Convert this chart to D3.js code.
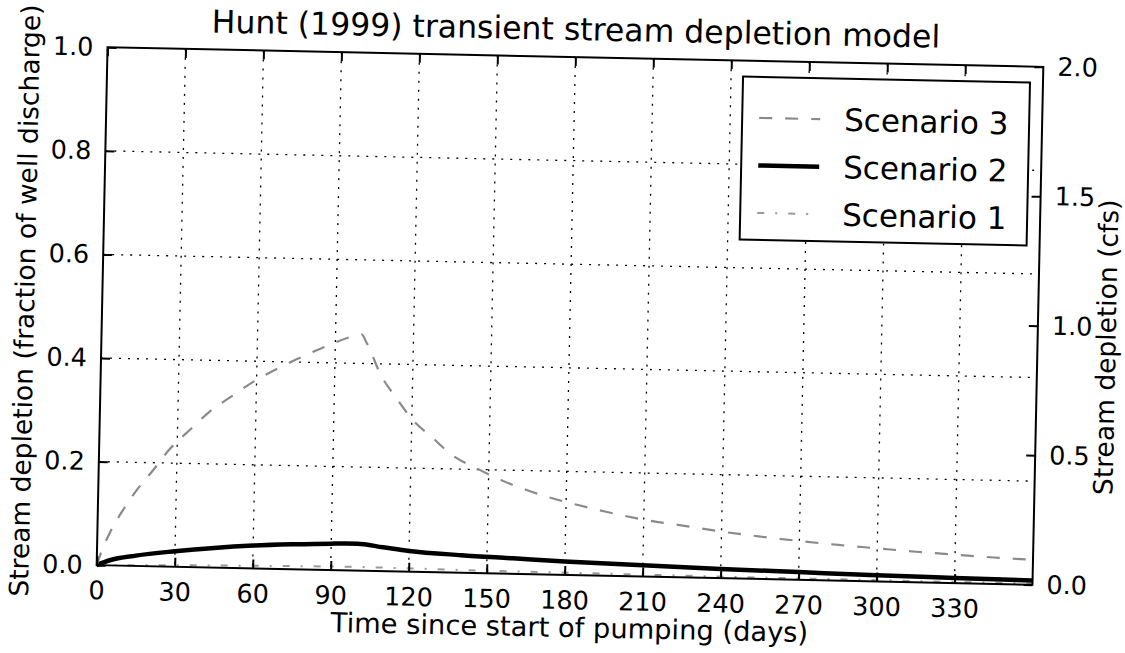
<!DOCTYPE html>
<html><head><meta charset="utf-8">
<script src="https://cdn.jsdelivr.net/npm/d3@7"></script>
<style>body{margin:0;background:#fff}svg{display:block}text{font-family:"DejaVu Sans",sans-serif;fill:#000}</style>
</head><body>
<svg id="c" width="1125" height="653"></svg>
<script>
// ---- data ----
const title = "Hunt (1999) transient stream depletion model";
const xLabel = "Time since start of pumping (days)";
const yLabelLeft = "Stream depletion (fraction of well discharge)";
const yLabelRight = "Stream depletion (cfs)";
const xTicks = [0,30,60,90,120,150,180,210,240,270,300,330];
const yTicksLeft = [0.0,0.2,0.4,0.6,0.8,1.0];
const yTicksRight = [0.0,0.5,1.0,1.5,2.0];
const xDomain = [0,360];
const seriesNames = ["Scenario 3","Scenario 2","Scenario 1"];
const days3 = [0,2,5,10,15,21,27,35,42,51,59,68,78,87,96,100,102,108,114,120,128,136,145,155,165,175,185,195,210,225,240,255,270,285,300,315,330,345,360];
const scen3 = [0,0.03,0.065,0.11,0.148,0.186,0.226,0.266,0.300,0.333,0.361,0.387,0.412,0.433,0.451,0.456,0.44,0.376,0.334,0.295,0.260,0.226,0.203,0.18,0.162,0.147,0.135,0.124,0.11,0.10,0.09,0.082,0.075,0.069,0.064,0.059,0.055,0.051,0.048];
const days2 = [0,5,15,30,45,60,75,90,100,110,120,140,160,180,210,240,270,300,330,360];
const scen2 = [0,0.01,0.02,0.03,0.038,0.044,0.048,0.051,0.052,0.046,0.040,0.034,0.030,0.026,0.022,0.018,0.015,0.012,0.010,0.008];
const days1 = [0,30,60,100,150,200,250,300,360];
const scen1 = [0,0.003,0.005,0.007,0.005,0.004,0.003,0.0025,0.002];

// ---- layout ----
const W=1125,H=653;
const L=102,T=57,R=1038,B=575;
const angle=1.2, cx=570, cy=316;
const svg=d3.select("#c");
svg.append("rect").attr("width",W).attr("height",H).attr("fill","#fff");
const g=svg.append("g").attr("transform",`rotate(${angle},${cx},${cy})`);

const x=d3.scaleLinear().domain(xDomain).range([L,R]);
const y=d3.scaleLinear().domain([0,1]).range([B,T]);
const yR=d3.scaleLinear().domain([0,2]).range([B,T]);

// grid
const grid=g.append("g").attr("stroke","#000").attr("stroke-width",1.3).attr("stroke-dasharray","2,7");
grid.selectAll("line.vx").data(xTicks.slice(1)).join("line")
  .attr("x1",d=>x(d)).attr("x2",d=>x(d)).attr("y1",T).attr("y2",B);
grid.selectAll("line.hy").data(yTicksLeft.slice(1,-1)).join("line").attr("class","hy")
  .attr("x1",L).attr("x2",R).attr("y1",d=>y(d)).attr("y2",d=>y(d));

// lines
const mk=(days,vals)=>days.map((d,i)=>[d,vals[i]]);
const line=d3.line().x(d=>x(d[0])).y(d=>y(d[1])).curve(d3.curveMonotoneX);
const styles=[
  {stroke:"#8a8a8a",w:2.2,dash:"13,13"},
  {stroke:"#000",w:4.5,dash:null},
  {stroke:"#9a9a9a",w:2,dash:"7,11,2,11"}
];
const data=[mk(days3,scen3),mk(days2,scen2),mk(days1,scen1)];
[2,1,0].forEach(i=>{
  g.append("path").datum(data[i]).attr("d",line).attr("fill","none")
   .attr("stroke",styles[i].stroke).attr("stroke-width",styles[i].w)
   .attr("stroke-dasharray",styles[i].dash);
});

// axes frame
g.append("rect").attr("x",L).attr("y",T).attr("width",R-L).attr("height",B-T)
 .attr("fill","none").attr("stroke","#000").attr("stroke-width",2);

// axes with inward ticks
const fs=25.5;
const ax=g.append("g").attr("transform",`translate(0,${B})`)
  .call(d3.axisBottom(x).tickValues(xTicks).tickSizeInner(-9).tickSizeOuter(0).tickPadding(16).tickFormat(d3.format("d")));
const axT=g.append("g").attr("transform",`translate(0,${T})`)
  .call(d3.axisTop(x).tickValues(xTicks).tickSizeInner(-9).tickSizeOuter(0).tickFormat(""));
const ayL=g.append("g").attr("transform",`translate(${L},0)`)
  .call(d3.axisLeft(y).tickValues(yTicksLeft).tickSizeInner(-9).tickSizeOuter(0).tickPadding(14).tickFormat(d3.format(".1f")));
const ayR=g.append("g").attr("transform",`translate(${R},0)`)
  .call(d3.axisRight(yR).tickValues(yTicksRight).tickSizeInner(-9).tickSizeOuter(0).tickPadding(14).tickFormat(d3.format(".1f")));
[ax,axT,ayL,ayR].forEach(a=>{
  a.select(".domain").remove();
  a.selectAll(".tick line").attr("stroke","#000").attr("stroke-width",2);
  a.selectAll(".tick text").attr("font-size",fs).attr("font-family","DejaVu Sans");
});

// labels
g.append("text").attr("x",(L+R)/2).attr("y",40).attr("text-anchor","middle").attr("font-size",31.5).text(title);
g.append("text").attr("x",(L+R)/2+6).attr("y",637).attr("text-anchor","middle").attr("font-size",27.3).text(xLabel);
g.append("text").attr("transform",`translate(34,${(T+B)/2-4}) rotate(-90)`).attr("text-anchor","middle").attr("font-size",26.5).text(yLabelLeft);
g.append("text").attr("transform",`translate(1116,${(T+B)/2+20}) rotate(-90)`).attr("text-anchor","middle").attr("font-size",26.5).text(yLabelRight);

// legend
const lg=g.append("g");
const lx=738, ly=73, lw=287, lh=163;
lg.append("rect").attr("x",lx).attr("y",ly).attr("width",lw).attr("height",lh)
  .attr("fill","#fff").attr("stroke","#000").attr("stroke-width",2);
seriesNames.forEach((n,i)=>{
  const ry=ly+41+i*47.5;
  lg.append("line").attr("x1",lx+17).attr("x2",lx+78).attr("y1",ry).attr("y2",ry)
    .attr("stroke",styles[i].stroke).attr("stroke-width",styles[i].w).attr("stroke-dasharray",styles[i].dash);
  lg.append("text").attr("x",lx+102).attr("y",ry).attr("dy","0.36em").attr("font-size",31).text(n);
});
</script>
</body></html>
